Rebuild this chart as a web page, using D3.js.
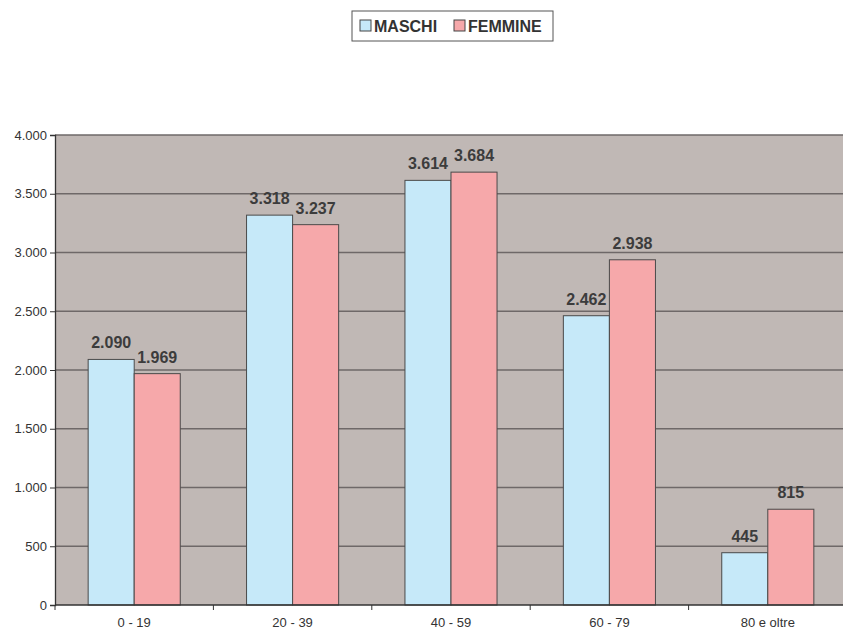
<!DOCTYPE html>
<html>
<head>
<meta charset="utf-8">
<script src="https://cdn.jsdelivr.net/npm/d3@7"></script>
<style>
  body { margin: 0; background: #fff; }
  svg { font-family: "Liberation Sans", Arial, sans-serif; }
</style>
</head>
<body>
<div id="chart"></div>
<script>
// data
var categories = ["0 - 19", "20 - 39", "40 - 59", "60 - 79", "80 e oltre"];
var series = ["MASCHI", "FEMMINE"];
var maschi = [2090, 3318, 3614, 2462, 445];
var femmine = [1969, 3237, 3684, 2938, 815];
var yTicks = [0, 500, 1000, 1500, 2000, 2500, 3000, 3500, 4000];

var colors = { "MASCHI": "#c6e9f9", "FEMMINE": "#f6a8aa" };

var w = 843, h = 630;
var margin = { top: 135, left: 55, bottom: 25 };
var plotW = 792;
var plotH = h - margin.top - margin.bottom;

var it = d3.formatLocale({ decimal: ",", thousands: ".", grouping: [3], currency: ["€", ""] });
var fmt = it.format(",d");

var svg = d3.select("#chart").append("svg")
  .attr("width", w)
  .attr("height", h);

var g = svg.append("g")
  .attr("transform", "translate(" + margin.left + "," + margin.top + ")");

var x = d3.scaleBand().domain(categories).range([0, plotW]).paddingInner(0).paddingOuter(0);
var x1 = d3.scaleBand().domain(series).range([0, x.bandwidth()]).paddingInner(0).paddingOuter(0.72);
var y = d3.scaleLinear().domain([0, 4000]).range([plotH, 0]);

// plot background
g.append("rect")
  .attr("width", plotW)
  .attr("height", plotH)
  .attr("fill", "#c0b8b5");

// grid lines
g.append("g").selectAll("line")
  .data(yTicks.slice(1))
  .enter().append("line")
  .attr("x1", 0).attr("x2", plotW)
  .attr("y1", function(d) { return y(d); })
  .attr("y2", function(d) { return y(d); })
  .attr("stroke", "#6e6868")
  .attr("stroke-width", 1.3);

// bars
var rows = categories.map(function(c, i) {
  return { cat: c, values: [{ s: "MASCHI", v: maschi[i] }, { s: "FEMMINE", v: femmine[i] }] };
});

var grp = g.append("g").selectAll("g")
  .data(rows)
  .enter().append("g")
  .attr("transform", function(d) { return "translate(" + x(d.cat) + ",0)"; });

grp.selectAll("rect")
  .data(function(d) { return d.values; })
  .enter().append("rect")
  .attr("x", function(d) { return x1(d.s); })
  .attr("y", function(d) { return y(d.v); })
  .attr("width", x1.bandwidth())
  .attr("height", function(d) { return plotH - y(d.v); })
  .attr("fill", function(d) { return colors[d.s]; })
  .attr("stroke", "#4a4a4a")
  .attr("stroke-width", 1);

grp.selectAll("text")
  .data(function(d) { return d.values; })
  .enter().append("text")
  .attr("x", function(d) { return x1(d.s) + x1.bandwidth() / 2; })
  .attr("y", function(d) { return y(d.v) - 11; })
  .attr("text-anchor", "middle")
  .attr("font-size", "16px")
  .attr("font-weight", "bold")
  .attr("fill", "#3c3c3c")
  .text(function(d) { return fmt(d.v); });

// y axis
var yAxis = g.append("g")
  .call(d3.axisLeft(y).tickValues(yTicks).tickSize(5).tickFormat(fmt));
yAxis.select(".domain").attr("stroke", "#333").attr("stroke-width", 1.3);
yAxis.selectAll(".tick line").attr("stroke", "#333");
yAxis.selectAll(".tick text")
  .attr("font-size", "13px")
  .attr("fill", "#333")
  .attr("font-family", "Liberation Sans, Arial, sans-serif");

// x axis
var xAxis = g.append("g")
  .attr("transform", "translate(0," + plotH + ")")
  .call(d3.axisBottom(x).tickSize(0).tickPadding(13));
xAxis.select(".domain").remove();
xAxis.selectAll(".tick text")
  .attr("font-size", "13px")
  .attr("fill", "#333")
  .attr("font-family", "Liberation Sans, Arial, sans-serif");

g.append("line")
  .attr("x1", 0).attr("x2", plotW)
  .attr("y1", plotH).attr("y2", plotH)
  .attr("stroke", "#333").attr("stroke-width", 1.3);

g.append("g").selectAll("line")
  .data(categories)
  .enter().append("line")
  .attr("x1", function(d) { return x(d); })
  .attr("x2", function(d) { return x(d); })
  .attr("y1", plotH).attr("y2", plotH + 5)
  .attr("stroke", "#333");

// legend
var legend = svg.append("g").attr("transform", "translate(352,11)");
legend.append("rect")
  .attr("width", 201).attr("height", 30)
  .attr("fill", "#fff").attr("stroke", "#555").attr("stroke-width", 1);

var items = [{ s: "MASCHI", x: 8 }, { s: "FEMMINE", x: 102 }];
var li = legend.selectAll(".item")
  .data(items)
  .enter().append("g")
  .attr("transform", function(d) { return "translate(" + d.x + ",0)"; });
li.append("rect")
  .attr("y", 9).attr("width", 11).attr("height", 11)
  .attr("fill", function(d) { return colors[d.s]; })
  .attr("stroke", "#444");
li.append("text")
  .attr("x", 14).attr("y", 21)
  .attr("font-size", "16px")
  .attr("font-weight", "bold")
  .attr("fill", "#333")
  .text(function(d) { return d.s; });
</script>
</body>
</html>
